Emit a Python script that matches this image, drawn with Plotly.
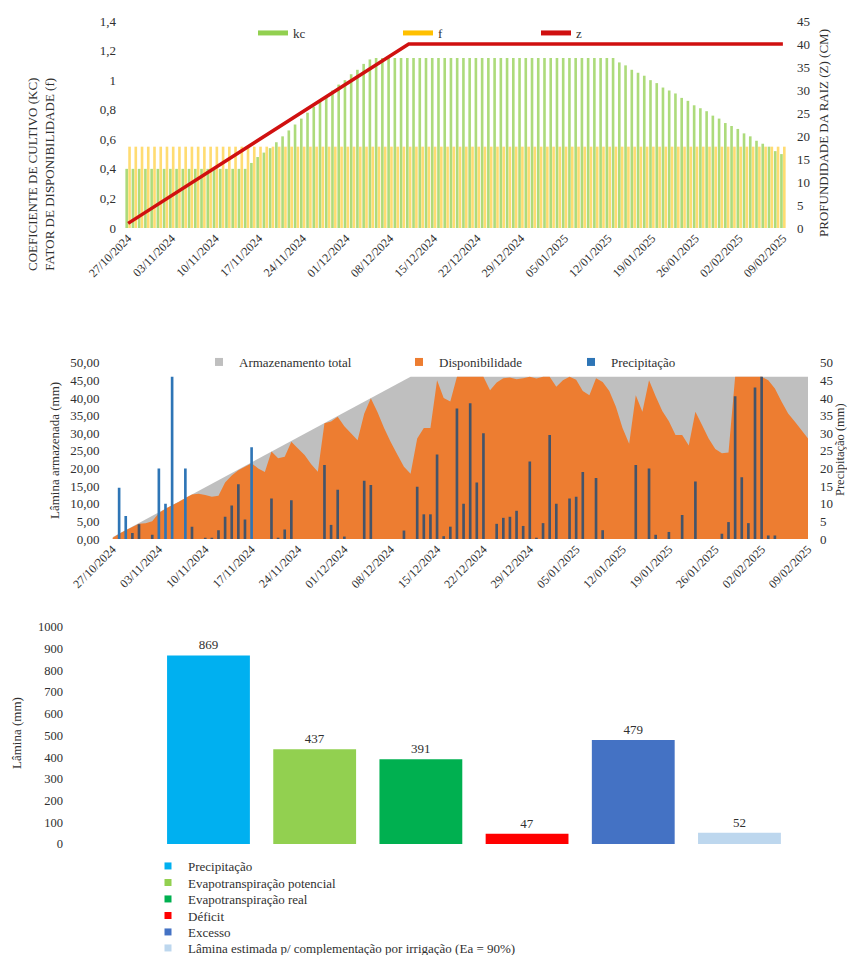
import plotly.graph_objects as go
import pandas as pd

# page body has an 8 px margin on every side: size the figure so the page never overflows
OFF = 8
W, H = 855 - OFF, 963 - 2 * OFF
FONT = "Liberation Serif"
TXT = "#303030"
DAY = 86400000

# ---------------- data ----------------
dates = pd.date_range("2024-10-27", "2025-02-09", freq="D")

kc = [
    0.40, 0.40, 0.40, 0.40, 0.40, 0.40, 0.40, 0.40, 0.40, 0.40,
    0.40, 0.40, 0.40, 0.40, 0.40, 0.40, 0.40, 0.40, 0.40, 0.40,
    0.44, 0.48, 0.51, 0.54, 0.58, 0.62, 0.66, 0.70, 0.74, 0.78,
    0.82, 0.86, 0.89, 0.93, 0.97, 1.00, 1.04, 1.07, 1.11, 1.14,
    1.15, 1.15, 1.15, 1.15, 1.15, 1.15, 1.15, 1.15, 1.15, 1.15,
    1.15, 1.15, 1.15, 1.15, 1.15, 1.15, 1.15, 1.15, 1.15, 1.15,
    1.15, 1.15, 1.15, 1.15, 1.15, 1.15, 1.15, 1.15, 1.15, 1.15,
    1.15, 1.15, 1.15, 1.15, 1.15, 1.15, 1.15, 1.15, 1.15, 1.12,
    1.10, 1.07, 1.05, 1.03, 1.00, 0.98, 0.95, 0.93, 0.91, 0.88,
    0.86, 0.83, 0.81, 0.79, 0.76, 0.74, 0.71, 0.69, 0.67, 0.64,
    0.62, 0.59, 0.57, 0.55, 0.52, 0.50,
]

f_fator = [
    0.55, 0.55, 0.55, 0.55, 0.55, 0.55, 0.55, 0.55, 0.55, 0.55,
    0.55, 0.55, 0.55, 0.55, 0.55, 0.55, 0.55, 0.55, 0.55, 0.55,
    0.55, 0.55, 0.55, 0.55, 0.55, 0.55, 0.55, 0.55, 0.55, 0.55,
    0.55, 0.55, 0.55, 0.55, 0.55, 0.55, 0.55, 0.55, 0.55, 0.55,
    0.55, 0.55, 0.55, 0.55, 0.55, 0.55, 0.55, 0.55, 0.55, 0.55,
    0.55, 0.55, 0.55, 0.55, 0.55, 0.55, 0.55, 0.55, 0.55, 0.55,
    0.55, 0.55, 0.55, 0.55, 0.55, 0.55, 0.55, 0.55, 0.55, 0.55,
    0.55, 0.55, 0.55, 0.55, 0.55, 0.55, 0.55, 0.55, 0.55, 0.55,
    0.55, 0.55, 0.55, 0.55, 0.55, 0.55, 0.55, 0.55, 0.55, 0.55,
    0.55, 0.55, 0.55, 0.55, 0.55, 0.55, 0.55, 0.55, 0.55, 0.55,
    0.55, 0.55, 0.55, 0.55, 0.55, 0.55,
]

z_dates = ["2024-10-27", "2024-12-11", "2025-02-09"]
z_raiz = [1.0, 40.0, 40.0]

armaz_dates = ["2024-10-27", "2024-12-11", "2025-02-09"]
armaz_total = [0.5, 46.0, 46.0]

disponibilidade = [
    0.3, 1.5, 2.5, 3.4, 4.3, 4.5, 5.0, 7.4, 8.6, 9.6,
    10.5, 11.6, 12.6, 12.8, 12.5, 12.0, 12.3, 16.0, 18.0, 19.5,
    20.5, 21.5, 20.0, 19.0, 24.8, 22.9, 23.3, 27.6, 25.7, 23.8,
    21.2, 19.1, 32.8, 33.3, 34.7, 32.0, 30.0, 28.0, 35.5, 39.9,
    36.0, 31.5, 27.5, 24.0, 20.5, 18.5, 28.5, 31.5, 31.5, 45.0,
    40.0, 39.0, 46.0, 46.0, 46.0, 46.0, 46.0, 42.2, 44.4, 45.6,
    45.8, 45.3, 45.6, 46.0, 45.5, 46.0, 46.0, 43.2, 45.0, 46.0,
    45.2, 42.0, 40.8, 45.6, 44.5, 42.0, 37.5, 31.5, 27.0, 40.8,
    36.1, 45.0, 40.5, 36.3, 33.4, 29.5, 29.5, 26.5, 36.1, 32.3,
    28.5, 25.5, 24.3, 24.5, 46.0, 46.0, 46.0, 46.0, 46.0, 45.0,
    42.7, 39.0, 35.6, 33.3, 30.9, 28.5,
]

precipitacao = [
    0, 14.5, 6.5, 1.7, 4.2, 0, 1.2, 20, 10, 46,
    0, 20, 3.5, 0, 0.3, 0.3, 2.5, 6.3, 9.5, 15.5,
    5.5, 26, 0, 0, 11.5, 0.3, 2.7, 11, 0, 0,
    0, 0, 21, 4, 14, 0.7, 0, 0, 16.5, 15.3,
    0, 0, 0, 0, 2.4, 0, 14.8, 7, 7, 24,
    0.8, 3.5, 37, 10, 38.5, 16, 30, 0, 4.3, 6,
    6.3, 8, 3.7, 22, 0.3, 4.5, 29.5, 10, 0, 11.5,
    12, 19, 0, 17.3, 2.5, 0, 0, 0, 0, 21,
    0, 20, 1.2, 0, 2, 0, 6.8, 0, 16.3, 0,
    0, 0, 1.5, 4.8, 40.5, 17.5, 4.5, 43, 46, 1,
    1, 0, 0, 0, 0, 0,
]

bal_nomes = [
    "Precipitação",
    "Evapotranspiração potencial",
    "Evapotranspiração real",
    "Déficit",
    "Excesso",
    "Lâmina estimada p/ complementação por irrigação (Ea = 90%)",
]
bal_valores = [869, 437, 391, 47, 479, 52]
bal_cores = ["#00B0F0", "#92D050", "#00B050", "#FF0000", "#4472C4", "#BDD7EE"]


# ---------------- helpers (window pixels -> paper) ----------------
def PX(p):
    return (p - OFF) / W


def PY(p):
    return 1 - (p - OFF) / H


# ---------------- figure ----------------
fig = go.Figure()

KC_COLOR = "#92D050"
F_COLOR = "#FFC000"
Z_COLOR = "#D01010"
fig.add_trace(go.Bar(x=dates, y=kc, name="kc", marker=dict(color=KC_COLOR, line=dict(width=0)),
                     width=0.42 * DAY, offset=-0.44 * DAY, xaxis="x", yaxis="y",
                     showlegend=False, opacity=0.75))
fig.add_trace(go.Bar(x=dates, y=f_fator, name="f", marker=dict(color=F_COLOR, line=dict(width=0)),
                     width=0.42 * DAY, offset=0.02 * DAY, xaxis="x", yaxis="y",
                     showlegend=False, opacity=0.55))
fig.add_trace(go.Scatter(x=z_dates, y=z_raiz, mode="lines", name="z",
                         line=dict(color=Z_COLOR, width=3.5), xaxis="x", yaxis="y2",
                         showlegend=False))

legends = {}
top_leg = [("kc", KC_COLOR, 293), ("f", F_COLOR, 438), ("z", Z_COLOR, 576)]
for i, (nm, col, tx) in enumerate(top_leg):
    key = "legend" if i == 0 else "legend%d" % (i + 1)
    legends[key] = (tx, 33)
    fig.add_trace(go.Scatter(x=[None], y=[None], mode="lines", name=nm,
                             line=dict(color=col, width=5), xaxis="x", yaxis="y",
                             legend=key, hoverinfo="skip"))

GRAY = "#BFBFBF"
ORANGE = "#ED7D31"
fig.add_trace(go.Scatter(x=armaz_dates, y=armaz_total, mode="none", fill="tozeroy",
                         fillcolor=GRAY, name="Armazenamento total",
                         xaxis="x2", yaxis="y3", showlegend=False))
fig.add_trace(go.Scatter(x=dates, y=disponibilidade, mode="none", fill="tozeroy",
                         fillcolor=ORANGE, name="Disponibilidade",
                         xaxis="x2", yaxis="y3", showlegend=False))
prec_cores = ["#2E75B6" if p > d else "#44546A" for p, d in zip(precipitacao, disponibilidade)]
fig.add_trace(go.Bar(x=dates, y=precipitacao, name="Precipitação",
                     marker=dict(color=prec_cores, line=dict(width=0)),
                     width=0.4 * DAY, xaxis="x2", yaxis="y4", showlegend=False))
mid_leg = [("Armazenamento total", GRAY, 239), ("Disponibilidade", ORANGE, 439),
           ("Precipitação", "#2E75B6", 611)]
for i, (nm, col, tx) in enumerate(mid_leg):
    key = "legend%d" % (i + 4)
    legends[key] = (tx, 362)
    fig.add_trace(go.Scatter(x=[None], y=[None], mode="markers", name=nm,
                             marker=dict(symbol="square", size=8, color=col),
                             xaxis="x2", yaxis="y3", legend=key, hoverinfo="skip"))

fig.add_trace(go.Bar(x=bal_nomes, y=bal_valores, marker=dict(color=bal_cores, line=dict(width=0)),
                     width=0.78, text=bal_valores, textposition="outside",
                     textfont=dict(size=13, color=TXT, family=FONT), cliponaxis=False,
                     xaxis="x3", yaxis="y5", showlegend=False))
bot_y = [866, 882.5, 899, 915.5, 932, 948]
for i, (nm, col) in enumerate(zip(bal_nomes, bal_cores)):
    key = "legend%d" % (i + 7)
    legends[key] = (188, bot_y[i])
    fig.add_trace(go.Scatter(x=[None], y=[None], mode="markers", name=nm,
                             marker=dict(symbol="square", size=7, color=col),
                             xaxis="x3", yaxis="y5", legend=key, hoverinfo="skip"))

legend_layout = {}
for key, (tx, ty) in legends.items():
    legend_layout[key] = dict(orientation="h", x=PX(tx - 40), xanchor="left",
                              y=PY(ty), yanchor="middle",
                              font=dict(size=13, color=TXT, family=FONT),
                              bgcolor="rgba(0,0,0,0)", borderwidth=0)


def ann(text, px, py, size=13):
    return dict(text=text, x=PX(px), y=PY(py), xref="paper", yref="paper",
                showarrow=False, textangle=-90, xanchor="center", yanchor="middle",
                font=dict(size=size, color=TXT, family=FONT))


date_ticks = dict(type="date", tick0="2024-10-27", dtick=7 * DAY, tickformat="%d/%m/%Y",
                  tickangle=-45, showgrid=False, zeroline=False, showline=False, ticks="",
                  tickfont=dict(size=12, color=TXT, family=FONT))
noline = dict(showgrid=False, zeroline=False, showline=False, ticks="")

fig.update_layout(
    template="none",
    width=W, height=H, margin=dict(l=0, r=0, t=0, b=0, autoexpand=False),
    paper_bgcolor="white", plot_bgcolor="rgba(0,0,0,0)",
    font=dict(family=FONT, size=13, color=TXT),
    separators=", ",
    barmode="overlay",
    showlegend=True,
    xaxis=dict(domain=[PX(125), PX(786)], anchor="y",
               range=["2024-10-26 12:00", "2025-02-09 12:00"], **date_ticks),
    yaxis=dict(domain=[PY(228), PY(21)], anchor="x", range=[0, 1.4001], dtick=0.2,
               ticklabelstandoff=8, tickfont=dict(size=13, family=FONT), **noline),
    yaxis2=dict(overlaying="y", side="right", anchor="x", range=[0, 45.001], dtick=5,
                ticklabelstandoff=10, tickfont=dict(size=13, family=FONT), **noline),
    xaxis2=dict(domain=[PX(112.5), PX(808)], anchor="y3",
                range=["2024-10-27", "2025-02-09"], **date_ticks),
    yaxis3=dict(domain=[PY(539), PY(362.7)], anchor="x2", range=[0, 50.001], dtick=5,
                tickformat=".2f", ticklabelstandoff=12, tickfont=dict(size=13, family=FONT),
                **noline),
    yaxis4=dict(overlaying="y3", side="right", anchor="x2", range=[0, 50.001], dtick=5,
                ticklabelstandoff=11, tickfont=dict(size=13, family=FONT), **noline),
    xaxis3=dict(domain=[PX(70), 1.0], anchor="y5", type="category",
                categoryorder="array", categoryarray=bal_nomes,
                range=[-1.304, 6.088], showticklabels=False, **noline),
    yaxis5=dict(domain=[PY(844), PY(627)], anchor="x3", range=[0, 1000.1], dtick=100,
                ticklabelstandoff=6, tickfont=dict(size=12.5, family=FONT), **noline),
    annotations=[
        ann("COEFICIENTE DE CULTIVO (KC)<br>FATOR DE DISPONIBILIDADE (f)", 41, 175, 13),
        ann("PROFUNDIDADE DA RAIZ (Z) (CM)", 824, 133, 13),
        ann("Lâmina armazenada (mm)", 55, 451, 13),
        ann("Precipitação (mm)", 840, 450, 12.5),
        ann("Lâmina (mm)", 16, 733, 13),
    ],
    **legend_layout,
)

fig.write_html("out.html")
